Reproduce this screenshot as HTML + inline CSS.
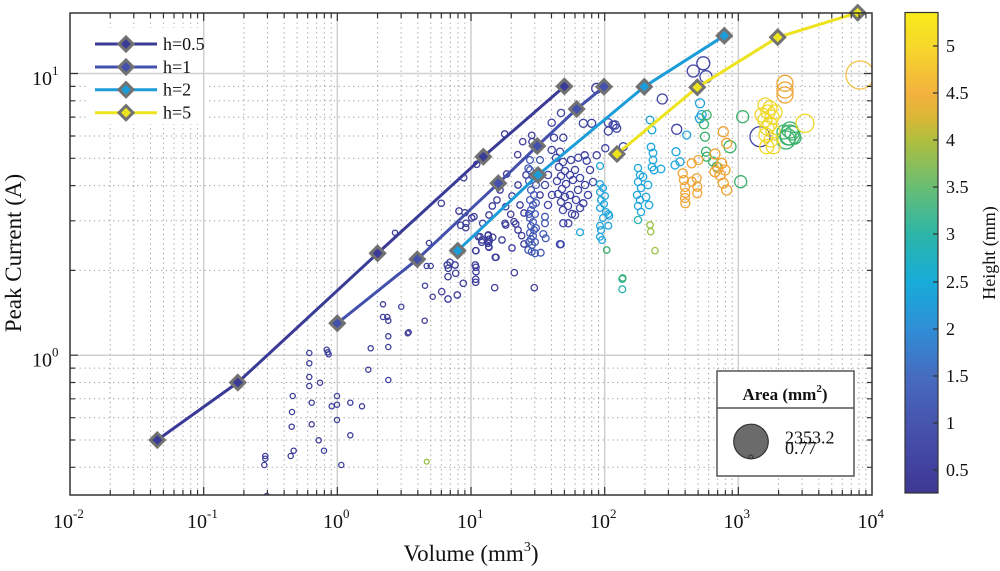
<!DOCTYPE html>
<html><head><meta charset="utf-8"><style>
html,body{margin:0;padding:0;background:#fff;}
svg{display:block;font-family:"Liberation Serif",serif;}
</style></head><body>
<svg width="1000" height="571" viewBox="0 0 1000 571" xmlns="http://www.w3.org/2000/svg">
<defs>
<linearGradient id="cb" x1="0" y1="0" x2="0" y2="1">
<stop offset="0" stop-color="#f8eb1a"/>
<stop offset="0.07" stop-color="#f6d82a"/>
<stop offset="0.168" stop-color="#f3b23e"/>
<stop offset="0.217" stop-color="#dcb636"/>
<stop offset="0.266" stop-color="#b0be3e"/>
<stop offset="0.364" stop-color="#68be74"/>
<stop offset="0.462" stop-color="#2cb5a8"/>
<stop offset="0.56" stop-color="#17acd9"/>
<stop offset="0.658" stop-color="#2f8ed6"/>
<stop offset="0.756" stop-color="#466cc0"/>
<stop offset="0.854" stop-color="#4655ae"/>
<stop offset="0.952" stop-color="#41419e"/>
<stop offset="1" stop-color="#3d3792"/>
</linearGradient>
<clipPath id="ax"><rect x="70" y="13" width="802" height="482"/></clipPath>
</defs>
<rect x="0" y="0" width="1000" height="571" fill="#fff"/>

<!-- minor grid -->
<path fill="none" stroke="#9a9a9a" stroke-width="1" stroke-dasharray="1.2 3.6" d="
M110.24 13V495M133.78 13V495M150.47 13V495M163.43 13V495M174.01 13V495M182.96 13V495M190.71 13V495M197.55 13V495
M243.91 13V495M267.45 13V495M284.14 13V495M297.1 13V495M307.68 13V495M316.63 13V495M324.38 13V495M331.22 13V495
M377.57 13V495M401.11 13V495M417.8 13V495M430.76 13V495M441.34 13V495M450.29 13V495M458.04 13V495M464.88 13V495
M511.24 13V495M534.78 13V495M551.47 13V495M564.43 13V495M575.01 13V495M583.96 13V495M591.71 13V495M598.55 13V495
M644.91 13V495M668.45 13V495M685.14 13V495M698.1 13V495M708.68 13V495M717.63 13V495M725.38 13V495M732.22 13V495
M778.57 13V495M802.11 13V495M818.8 13V495M831.76 13V495M842.34 13V495M851.29 13V495M859.04 13V495M865.88 13V495
M70 467.3H872M70 440H872M70 417.7H872M70 398.8H872M70 382.5H872M70 368.1H872
M70 270.4H872M70 220.8H872M70 185.6H872M70 158.3H872M70 136H872M70 117.1H872M70 100.8H872M70 86.4H872"/>

<!-- legend background (top-left) -->
<rect x="86" y="28" width="122" height="96" fill="#fff"/>

<!-- major grid -->
<path fill="none" stroke="#cfcfcf" stroke-width="1.5" d="M203.67 13V495M337.33 13V495M471 13V495M604.67 13V495M738.33 13V495M70 355.2H872M70 73.5H872"/>

<!-- scatter -->
<g clip-path="url(#ax)" fill="none" stroke-width="1.3">
<g stroke="#3d3d9b">
<circle cx="395" cy="232.7" r="2.6"/><circle cx="429" cy="243" r="2.6"/><circle cx="426.7" cy="266" r="2.6"/><circle cx="430.7" cy="266" r="2.6"/>
<circle cx="425" cy="285.7" r="2.6"/><circle cx="432.7" cy="296.7" r="2.6"/><circle cx="383" cy="304.3" r="2.6"/><circle cx="401.3" cy="306.7" r="2.6"/>
<circle cx="383" cy="317" r="2.6"/><circle cx="387.3" cy="317" r="2.6"/><circle cx="388.3" cy="320.7" r="2.6"/><circle cx="424.7" cy="320.7" r="2.6"/>
<circle cx="408.7" cy="332.3" r="2.6"/><circle cx="407.7" cy="333.3" r="2.6"/><circle cx="388.3" cy="336.3" r="2.6"/><circle cx="370.7" cy="348.3" r="2.6"/>
<circle cx="388.3" cy="347" r="2.6"/><circle cx="326.7" cy="349.7" r="2.6"/><circle cx="327.7" cy="352.3" r="2.6"/><circle cx="328.7" cy="354.3" r="2.6"/>
<circle cx="309.3" cy="353" r="2.6"/><circle cx="309.3" cy="363.3" r="2.6"/><circle cx="368.3" cy="369.7" r="2.6"/><circle cx="309.3" cy="377" r="2.6"/>
<circle cx="320" cy="382.7" r="2.6"/><circle cx="309.3" cy="386" r="2.6"/><circle cx="388.3" cy="380" r="2.6"/><circle cx="292.7" cy="396" r="2.6"/>
<circle cx="337" cy="396" r="2.6"/><circle cx="311.7" cy="402.7" r="2.6"/><circle cx="331.7" cy="406.3" r="2.6"/><circle cx="337" cy="404.7" r="2.6"/>
<circle cx="350.3" cy="402.7" r="2.6"/><circle cx="362" cy="406.3" r="2.6"/><circle cx="292" cy="412" r="2.6"/><circle cx="337" cy="420" r="2.6"/>
<circle cx="291.7" cy="426.7" r="2.6"/><circle cx="311.7" cy="424.3" r="2.6"/><circle cx="350.3" cy="435.3" r="2.6"/><circle cx="318.7" cy="440.3" r="2.6"/>
<circle cx="293.7" cy="450.7" r="2.6"/><circle cx="290.7" cy="456" r="2.6"/><circle cx="324" cy="450.7" r="2.6"/><circle cx="265.3" cy="456" r="2.6"/>
<circle cx="265.3" cy="458.7" r="2.6"/><circle cx="264.3" cy="465" r="2.6"/><circle cx="341.3" cy="465" r="2.6"/><circle cx="266.7" cy="496" r="2.6"/>
</g>
<g stroke="#3d3d9b">
<circle cx="504.7" cy="134" r="3.2"/><circle cx="463.7" cy="177.7" r="3.2"/><circle cx="441.3" cy="203.3" r="3.2"/><circle cx="459" cy="211" r="3.2"/>
<circle cx="465" cy="212.7" r="3.2"/><circle cx="474" cy="216.7" r="3.2"/><circle cx="471.7" cy="218" r="3.2"/><circle cx="466" cy="223.3" r="3.2"/>
<circle cx="460.7" cy="225.3" r="3.2"/><circle cx="465.7" cy="227.7" r="3.2"/><circle cx="476.7" cy="164.3" r="3.2"/><circle cx="478.3" cy="236.7" r="3.2"/>
<circle cx="482" cy="240" r="3.2"/><circle cx="488" cy="235.7" r="3.2"/><circle cx="489" cy="241.7" r="3.2"/><circle cx="488.7" cy="246.7" r="3.2"/>
<circle cx="475.7" cy="250.7" r="3.2"/><circle cx="495.3" cy="257.3" r="3.2"/><circle cx="482.7" cy="223.3" r="3.2"/><circle cx="492.3" cy="206" r="3.2"/>
<circle cx="489" cy="215" r="3.2"/><circle cx="505.7" cy="206.7" r="3.2"/><circle cx="505" cy="223.3" r="3.2"/><circle cx="505.7" cy="225" r="3.2"/>
<circle cx="510.7" cy="214.3" r="3.2"/><circle cx="514" cy="221.7" r="3.2"/><circle cx="515.7" cy="224" r="3.2"/><circle cx="506.7" cy="174" r="3.2"/>
<circle cx="517.7" cy="154.7" r="3.2"/><circle cx="522.7" cy="141.7" r="3.2"/><circle cx="531.7" cy="135.3" r="3.2"/><circle cx="532" cy="141.7" r="3.2"/>
<circle cx="447.3" cy="265" r="3.2"/><circle cx="450" cy="262.3" r="3.2"/><circle cx="448.3" cy="268.3" r="3.2"/><circle cx="455" cy="265" r="3.2"/>
<circle cx="455.7" cy="273.3" r="3.2"/><circle cx="448" cy="276.7" r="3.2"/><circle cx="463.3" cy="283.3" r="3.2"/><circle cx="441.7" cy="291.7" r="3.2"/>
<circle cx="457.3" cy="295" r="3.2"/><circle cx="448" cy="299" r="3.2"/><circle cx="480" cy="236.7" r="3.2"/><circle cx="481.7" cy="242.3" r="3.2"/>
<circle cx="488.3" cy="235" r="3.2"/><circle cx="492.7" cy="237.3" r="3.2"/><circle cx="489" cy="239.3" r="3.2"/><circle cx="488.3" cy="243.3" r="3.2"/>
<circle cx="489" cy="247.3" r="3.2"/><circle cx="476" cy="250.7" r="3.2"/><circle cx="496" cy="257.3" r="3.2"/><circle cx="475.3" cy="265" r="3.2"/>
<circle cx="476" cy="267.3" r="3.2"/><circle cx="476" cy="271.7" r="3.2"/><circle cx="475.7" cy="279.3" r="3.2"/><circle cx="475.7" cy="282.3" r="3.2"/>
<circle cx="494.7" cy="287.7" r="3.2"/><circle cx="514.3" cy="272.7" r="3.2"/><circle cx="534.3" cy="287.7" r="3.2"/><circle cx="521.7" cy="235.7" r="3.2"/>
<circle cx="500" cy="190" r="3.2"/><circle cx="512" cy="196" r="3.2"/><circle cx="518" cy="185" r="3.2"/><circle cx="497" cy="200" r="3.2"/>
<circle cx="520" cy="205" r="3.2"/><circle cx="524" cy="213" r="3.2"/><circle cx="518" cy="230" r="3.2"/><circle cx="524" cy="244" r="3.2"/>
<circle cx="512" cy="248" r="3.2"/><circle cx="502" cy="240" r="3.2"/><circle cx="526" cy="175" r="3.2"/><circle cx="540" cy="195" r="3.2"/>
</g>
<g stroke="#4258b4">
<circle cx="530" cy="170" r="3.4"/><circle cx="533" cy="176" r="3.4"/><circle cx="529" cy="181" r="3.4"/><circle cx="536" cy="185" r="3.4"/>
<circle cx="531" cy="190" r="3.4"/><circle cx="534" cy="195" r="3.4"/><circle cx="530" cy="200" r="3.4"/><circle cx="533" cy="205" r="3.4"/>
<circle cx="531" cy="210" r="3.4"/><circle cx="535" cy="214" r="3.4"/><circle cx="530" cy="218" r="3.4"/><circle cx="533" cy="222" r="3.4"/>
<circle cx="531" cy="226" r="3.4"/><circle cx="534" cy="230" r="3.4"/><circle cx="530" cy="233" r="3.4"/><circle cx="533" cy="236" r="3.4"/>
<circle cx="531" cy="239" r="3.4"/><circle cx="535" cy="242" r="3.4"/><circle cx="532" cy="245" r="3.4"/><circle cx="528.3" cy="250" r="3.4"/>
<circle cx="531.7" cy="251.7" r="3.4"/><circle cx="535" cy="253.3" r="3.4"/><circle cx="540.7" cy="252.7" r="3.4"/><circle cx="543.3" cy="234" r="3.4"/>
<circle cx="545.7" cy="238.3" r="3.4"/><circle cx="561" cy="244.3" r="3.4"/><circle cx="545" cy="216.7" r="3.4"/><circle cx="545" cy="223.3" r="3.4"/>
<circle cx="540" cy="160" r="3.4"/><circle cx="530" cy="160" r="3.4"/><circle cx="528.3" cy="168.3" r="3.4"/>
<circle cx="536" cy="228" r="3.4"/><circle cx="529" cy="214" r="3.4"/><circle cx="536" cy="203" r="3.4"/><circle cx="529" cy="242" r="3.4"/>
</g>
<g stroke="#3f44a4">
<circle cx="551.7" cy="150" r="3.6"/><circle cx="560" cy="151.7" r="3.6"/><circle cx="556" cy="158" r="3.6"/><circle cx="563" cy="162" r="3.6"/>
<circle cx="559" cy="167" r="3.6"/><circle cx="565" cy="171" r="3.6"/><circle cx="561" cy="176" r="3.6"/><circle cx="557" cy="181" r="3.6"/>
<circle cx="566" cy="184" r="3.6"/><circle cx="562" cy="189" r="3.6"/><circle cx="558" cy="194" r="3.6"/><circle cx="565" cy="197" r="3.6"/>
<circle cx="561" cy="202" r="3.6"/><circle cx="568" cy="206" r="3.6"/><circle cx="563" cy="210" r="3.6"/><circle cx="571" cy="160" r="3.6"/>
<circle cx="575" cy="170" r="3.6"/><circle cx="573" cy="180" r="3.6"/><circle cx="578" cy="190" r="3.6"/><circle cx="570" cy="195" r="3.6"/>
<circle cx="576" cy="200" r="3.6"/><circle cx="580" cy="208" r="3.6"/><circle cx="583.3" cy="203.3" r="3.6"/><circle cx="572" cy="214" r="3.6"/>
<circle cx="563.3" cy="223.3" r="3.6"/><circle cx="568.3" cy="223.3" r="3.6"/><circle cx="560" cy="244.3" r="3.6"/><circle cx="578.3" cy="157.7" r="3.6"/>
<circle cx="584.7" cy="155.3" r="3.6"/><circle cx="586.7" cy="160.7" r="3.6"/><circle cx="596.7" cy="155.3" r="3.6"/><circle cx="548" cy="175" r="3.6"/>
<circle cx="545" cy="185" r="3.6"/><circle cx="552" cy="195" r="3.6"/><circle cx="548" cy="205" r="3.6"/><circle cx="554" cy="137.7" r="3.6"/>
<circle cx="563.3" cy="137.7" r="3.6"/><circle cx="551.7" cy="122.7" r="3.6"/><circle cx="561" cy="113" r="3.6"/><circle cx="583.3" cy="123.3" r="4"/>
<circle cx="591.7" cy="123.3" r="4"/><circle cx="596.7" cy="88.3" r="5"/><circle cx="605.3" cy="148.3" r="3.6"/><circle cx="608.3" cy="122.7" r="4"/>
<circle cx="615" cy="125" r="4.2"/><circle cx="608.3" cy="131" r="4"/><circle cx="590" cy="170" r="3.6"/><circle cx="593" cy="182" r="3.6"/>
<circle cx="588" cy="195" r="3.6"/><circle cx="613" cy="125" r="4"/><circle cx="616.7" cy="128.3" r="4"/><circle cx="623.3" cy="146.7" r="4"/>
<circle cx="703.3" cy="63.3" r="6.5"/><circle cx="693.3" cy="71" r="6"/><circle cx="706" cy="76.7" r="6"/><circle cx="662.3" cy="99" r="5"/>
<circle cx="676.7" cy="129.3" r="5"/><circle cx="760" cy="136.7" r="10"/>
<circle cx="580" cy="178" r="3.6"/><circle cx="585" cy="185" r="3.6"/><circle cx="570" cy="175" r="3.6"/><circle cx="575" cy="215" r="3.6"/>
</g>
<g stroke="#20a6dc">
<circle cx="580" cy="232.3" r="3.4"/><circle cx="600" cy="166" r="3.4"/><circle cx="600" cy="184" r="3.4"/><circle cx="603" cy="188" r="3.4"/>
<circle cx="600" cy="192" r="3.4"/><circle cx="605" cy="196" r="3.4"/><circle cx="601" cy="200" r="3.4"/><circle cx="604" cy="204" r="3.4"/>
<circle cx="600" cy="208" r="3.4"/><circle cx="606" cy="212" r="3.4"/><circle cx="608.3" cy="214" r="3.4"/><circle cx="609.3" cy="215.7" r="3.4"/>
<circle cx="600" cy="225.7" r="3.4"/><circle cx="608.3" cy="225.7" r="3.4"/><circle cx="600" cy="236.7" r="3.4"/><circle cx="602" cy="240" r="3.4"/>
<circle cx="603" cy="218" r="3.4"/><circle cx="601" cy="230" r="3.4"/>
<circle cx="638" cy="168" r="3.6"/><circle cx="640" cy="175" r="3.6"/><circle cx="638" cy="182" r="3.6"/><circle cx="641" cy="188" r="3.6"/>
<circle cx="637" cy="195" r="3.6"/><circle cx="640" cy="200" r="3.6"/><circle cx="638" cy="206" r="3.6"/><circle cx="641" cy="212" r="3.6"/>
<circle cx="650" cy="120" r="3.8"/><circle cx="652" cy="130" r="3.8"/><circle cx="651" cy="147" r="3.8"/><circle cx="653" cy="153" r="3.8"/>
<circle cx="653" cy="160" r="3.8"/><circle cx="652" cy="167" r="3.8"/><circle cx="654" cy="170" r="3.8"/><circle cx="661" cy="169" r="3.8"/>
<circle cx="643" cy="177" r="3.8"/><circle cx="648" cy="185" r="3.8"/><circle cx="646" cy="197" r="3.8"/><circle cx="649" cy="205" r="3.8"/>
<circle cx="676" cy="151.7" r="4"/><circle cx="675" cy="165" r="4"/><circle cx="680" cy="161.7" r="4"/><circle cx="686.7" cy="135" r="4"/>
<circle cx="700" cy="103.3" r="4.5"/><circle cx="701.7" cy="115" r="4.5"/><circle cx="700" cy="118.3" r="4.5"/>
</g>
<g stroke="#28b4b0">
<circle cx="622.3" cy="279" r="3.4"/><circle cx="622.3" cy="289.3" r="3.4"/><circle cx="638" cy="220" r="3.6"/>
</g>
<g stroke="#3bb16c">
<circle cx="706.7" cy="115" r="4.5"/><circle cx="704" cy="124.3" r="4.5"/><circle cx="705" cy="136.7" r="4.5"/><circle cx="706" cy="151.7" r="4.5"/>
<circle cx="706.7" cy="156.7" r="4.5"/><circle cx="713" cy="161.7" r="4.5"/><circle cx="716.7" cy="166.7" r="4.5"/><circle cx="730" cy="146.7" r="6"/>
<circle cx="742.7" cy="116.7" r="6"/><circle cx="740.7" cy="181.7" r="6"/><circle cx="606.7" cy="250" r="3.2"/><circle cx="622.7" cy="278" r="3.2"/>
<circle cx="790" cy="135" r="10"/><circle cx="788" cy="137" r="8"/><circle cx="792" cy="133" r="7"/><circle cx="786" cy="140" r="9"/>
<circle cx="795" cy="138" r="6"/><circle cx="790" cy="130" r="8"/><circle cx="784" cy="132" r="7"/>
</g>
<g stroke="#98c040">
<circle cx="650" cy="225" r="3.2"/><circle cx="650.7" cy="231.7" r="3.2"/><circle cx="655" cy="250.7" r="3.2"/><circle cx="426.7" cy="461.7" r="2.4"/>
</g>
<g stroke="#f0a434">
<circle cx="682.7" cy="173.3" r="4.5"/><circle cx="684" cy="180" r="4.5"/><circle cx="685" cy="187" r="4.5"/><circle cx="685.3" cy="193" r="4.5"/>
<circle cx="685" cy="198" r="4.5"/><circle cx="685.3" cy="203.3" r="4.5"/><circle cx="691.7" cy="163.3" r="4.5"/><circle cx="698.3" cy="160" r="4.5"/>
<circle cx="696.7" cy="178.3" r="4.5"/><circle cx="697.3" cy="186.7" r="4.5"/><circle cx="697.3" cy="193.3" r="4.5"/><circle cx="691.7" cy="181.7" r="4.5"/>
<circle cx="723.3" cy="131.7" r="5"/><circle cx="726.7" cy="143.3" r="5"/><circle cx="715" cy="154" r="5"/><circle cx="721.7" cy="163.3" r="5"/>
<circle cx="725" cy="170" r="5"/><circle cx="715" cy="171.7" r="5"/><circle cx="723.3" cy="183.3" r="5"/><circle cx="726.7" cy="190" r="5"/>
<circle cx="718" cy="168" r="5"/><circle cx="720" cy="175" r="5"/><circle cx="785" cy="83.3" r="8"/><circle cx="785" cy="90" r="8"/><circle cx="785" cy="95" r="8"/>
</g>
<g stroke="#f4c246">
<circle cx="860" cy="75" r="14"/>
</g>
<g stroke="#f0d828">
<circle cx="765" cy="105" r="7"/><circle cx="770" cy="108" r="7"/><circle cx="768" cy="112" r="7"/><circle cx="772" cy="117" r="7"/>
<circle cx="765" cy="120" r="7"/><circle cx="770" cy="124" r="7"/><circle cx="767" cy="128" r="7"/><circle cx="773" cy="131" r="7"/>
<circle cx="766" cy="135" r="7"/><circle cx="771" cy="140" r="7"/><circle cx="775" cy="112" r="7"/><circle cx="762" cy="115" r="7"/>
<circle cx="766.7" cy="146.7" r="7"/><circle cx="773.3" cy="146.7" r="7"/><circle cx="805" cy="123.3" r="9"/>
</g>
</g>

<!-- series lines -->
<g fill="none" stroke-width="3" stroke-linejoin="round">
<polyline stroke="#3a3b96" points="157.3,440 237.8,382.5 377.6,253.3 483.3,156.7 564.4,86.4"/>
<polyline stroke="#4350ac" points="337.3,323.3 417.3,259.3 498.3,183.3 537.3,146 576.7,109 604,86.7"/>
<polyline stroke="#1c9cd8" points="457.7,250.7 538,175 644.3,86.7 724.3,35.7"/>
<polyline stroke="#ede31e" points="617,154 697.3,87.3 777.7,37.3 857.7,12.7"/>
</g>
<!-- diamonds -->
<g stroke="#727272" stroke-width="3" stroke-linejoin="miter">
<g fill="#3a3b96">
<path d="M157.3 433L164.3 440L157.3 447L150.3 440Z"/><path d="M237.8 375.5L244.8 382.5L237.8 389.5L230.8 382.5Z"/>
<path d="M377.6 246.3L384.6 253.3L377.6 260.3L370.6 253.3Z"/><path d="M483.3 149.7L490.3 156.7L483.3 163.7L476.3 156.7Z"/>
<path d="M564.4 79.4L571.4 86.4L564.4 93.4L557.4 86.4Z"/>
</g>
<g fill="#4350ac">
<path d="M337.3 316.3L344.3 323.3L337.3 330.3L330.3 323.3Z"/><path d="M417.3 252.3L424.3 259.3L417.3 266.3L410.3 259.3Z"/>
<path d="M498.3 176.3L505.3 183.3L498.3 190.3L491.3 183.3Z"/><path d="M537.3 139L544.3 146L537.3 153L530.3 146Z"/>
<path d="M576.7 102L583.7 109L576.7 116L569.7 109Z"/><path d="M604 79.7L611 86.7L604 93.7L597 86.7Z"/>
</g>
<g fill="#1c9cd8">
<path d="M457.7 243.7L464.7 250.7L457.7 257.7L450.7 250.7Z"/><path d="M538 168L545 175L538 182L531 175Z"/>
<path d="M644.3 79.7L651.3 86.7L644.3 93.7L637.3 86.7Z"/><path d="M724.3 28.7L731.3 35.7L724.3 42.7L717.3 35.7Z"/>
</g>
<g fill="#ede31e">
<path d="M617 147L624 154L617 161L610 154Z"/><path d="M697.3 80.3L704.3 87.3L697.3 94.3L690.3 87.3Z"/>
<path d="M777.7 30.3L784.7 37.3L777.7 44.3L770.7 37.3Z"/><path d="M857.7 5.7L864.7 12.7L857.7 19.7L850.7 12.7Z"/>
</g>
</g>

<!-- top-left legend -->
<g stroke-width="3">
<line x1="95" y1="44" x2="157" y2="44" stroke="#3a3b96"/>
<line x1="95" y1="67" x2="157" y2="67" stroke="#4350ac"/>
<line x1="95" y1="89.7" x2="157" y2="89.7" stroke="#1c9cd8"/>
<line x1="95" y1="112.7" x2="157" y2="112.7" stroke="#ede31e"/>
</g>
<g stroke="#727272" stroke-width="3">
<path fill="#3a3b96" d="M126 37L133 44L126 51L119 44Z"/>
<path fill="#4350ac" d="M126 60L133 67L126 74L119 67Z"/>
<path fill="#1c9cd8" d="M126 82.7L133 89.7L126 96.7L119 89.7Z"/>
<path fill="#ede31e" d="M126 105.7L133 112.7L126 119.7L119 112.7Z"/>
</g>
<g font-size="18" fill="#111">
<text x="163" y="50">h=0.5</text>
<text x="163" y="73">h=1</text>
<text x="163" y="95.7">h=2</text>
<text x="163" y="118.7">h=5</text>
</g>

<!-- axes box and ticks -->
<rect x="70" y="13" width="802" height="482" fill="none" stroke="#333" stroke-width="1.5"/>
<path fill="none" stroke="#333" stroke-width="1.2" d="
M203.67 495v-8M337.33 495v-8M471 495v-8M604.67 495v-8M738.33 495v-8
M203.67 13v8M337.33 13v8M471 13v8M604.67 13v8M738.33 13v8
M70 355.2h8M70 73.5h8M872 355.2h-8M872 73.5h-8
M110.24 495v-5M133.78 495v-5M150.47 495v-5M163.43 495v-5M174.01 495v-5M182.96 495v-5M190.71 495v-5M197.55 495v-5
M243.91 495v-5M267.45 495v-5M284.14 495v-5M297.1 495v-5M307.68 495v-5M316.63 495v-5M324.38 495v-5M331.22 495v-5
M377.57 495v-5M401.11 495v-5M417.8 495v-5M430.76 495v-5M441.34 495v-5M450.29 495v-5M458.04 495v-5M464.88 495v-5
M511.24 495v-5M534.78 495v-5M551.47 495v-5M564.43 495v-5M575.01 495v-5M583.96 495v-5M591.71 495v-5M598.55 495v-5
M644.91 495v-5M668.45 495v-5M685.14 495v-5M698.1 495v-5M708.68 495v-5M717.63 495v-5M725.38 495v-5M732.22 495v-5
M778.57 495v-5M802.11 495v-5M818.8 495v-5M831.76 495v-5M842.34 495v-5M851.29 495v-5M859.04 495v-5M865.88 495v-5
M110.24 13v5M133.78 13v5M150.47 13v5M163.43 13v5M174.01 13v5M182.96 13v5M190.71 13v5M197.55 13v5
M243.91 13v5M267.45 13v5M284.14 13v5M297.1 13v5M307.68 13v5M316.63 13v5M324.38 13v5M331.22 13v5
M377.57 13v5M401.11 13v5M417.8 13v5M430.76 13v5M441.34 13v5M450.29 13v5M458.04 13v5M464.88 13v5
M511.24 13v5M534.78 13v5M551.47 13v5M564.43 13v5M575.01 13v5M583.96 13v5M591.71 13v5M598.55 13v5
M644.91 13v5M668.45 13v5M685.14 13v5M698.1 13v5M708.68 13v5M717.63 13v5M725.38 13v5M732.22 13v5
M778.57 13v5M802.11 13v5M818.8 13v5M831.76 13v5M842.34 13v5M851.29 13v5M859.04 13v5M865.88 13v5
M70 467.3h5M70 440h5M70 417.7h5M70 398.8h5M70 382.5h5M70 368.1h5M70 270.4h5M70 220.8h5M70 185.6h5M70 158.3h5M70 136h5M70 117.1h5M70 100.8h5M70 86.4h5
M872 467.3h-5M872 440h-5M872 417.7h-5M872 398.8h-5M872 382.5h-5M872 368.1h-5M872 270.4h-5M872 220.8h-5M872 185.6h-5M872 158.3h-5M872 136h-5M872 117.1h-5M872 100.8h-5M872 86.4h-5"/>

<!-- x tick labels -->
<g font-size="20" fill="#111">
<text x="53" y="528">10<tspan font-size="13" dy="-10">-2</tspan></text>
<text x="187" y="528">10<tspan font-size="13" dy="-10">-1</tspan></text>
<text x="323" y="528">10<tspan font-size="13" dy="-10">0</tspan></text>
<text x="457" y="528">10<tspan font-size="13" dy="-10">1</tspan></text>
<text x="590" y="528">10<tspan font-size="13" dy="-10">2</tspan></text>
<text x="723.5" y="528">10<tspan font-size="13" dy="-10">3</tspan></text>
<text x="857.5" y="528">10<tspan font-size="13" dy="-10">4</tspan></text>
</g>
<!-- y tick labels -->
<g font-size="20" fill="#111">
<text x="32" y="366.7">10<tspan font-size="13" dy="-10">0</tspan></text>
<text x="32" y="85">10<tspan font-size="13" dy="-10">1</tspan></text>
</g>
<!-- axis labels -->
<text x="471" y="561" font-size="23" text-anchor="middle" fill="#111">Volume (mm<tspan font-size="14" dy="-10">3</tspan><tspan dy="10">)</tspan></text>
<text transform="translate(21,253) rotate(-90)" font-size="23" text-anchor="middle" fill="#111">Peak Current (A)</text>

<!-- area legend -->
<rect x="717" y="371" width="137" height="105" fill="#fff" stroke="#555" stroke-width="1.5"/>
<line x1="717" y1="408" x2="854" y2="408" stroke="#555" stroke-width="1.5"/>
<text x="785" y="400" font-size="17" font-weight="bold" text-anchor="middle" fill="#111">Area (mm<tspan font-size="11" dy="-8">2</tspan><tspan dy="8">)</tspan></text>
<circle cx="751" cy="441.5" r="17.3" fill="#6b6b6b" stroke="#333" stroke-width="1.2"/>
<circle cx="750.7" cy="457" r="2" fill="none" stroke="#333" stroke-width="1"/>
<text x="785" y="443.5" font-size="18" fill="#111">2353.2</text>
<text x="785" y="454" font-size="18" fill="#111">0.77</text>

<!-- colorbar -->
<rect x="905" y="12.5" width="33" height="480.5" fill="url(#cb)" stroke="#333" stroke-width="1.2"/>
<path fill="none" stroke="#333" stroke-width="1.2" d="M938 46h-5M938 93h-5M938 140h-5M938 187h-5M938 234h-5M938 282h-5M938 329h-5M938 376h-5M938 423h-5M938 470h-5"/>
<g font-size="18" fill="#111">
<text x="946" y="52">5</text>
<text x="946" y="99">4.5</text>
<text x="946" y="146">4</text>
<text x="946" y="193">3.5</text>
<text x="946" y="240">3</text>
<text x="946" y="288">2.5</text>
<text x="946" y="335">2</text>
<text x="946" y="382">1.5</text>
<text x="946" y="429">1</text>
<text x="946" y="476">0.5</text>
</g>
<text transform="translate(995,253) rotate(-90)" font-size="18" text-anchor="middle" fill="#111">Height (mm)</text>
</svg>
</body></html>
